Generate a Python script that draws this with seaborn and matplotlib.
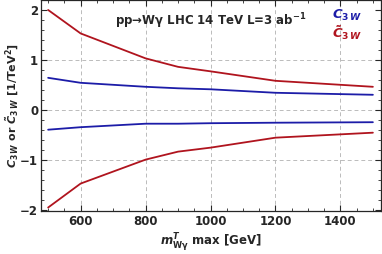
import numpy as np
import pandas as pd
import matplotlib.pyplot as plt
import seaborn as sns
from matplotlib.ticker import MultipleLocator

# Data gelezen uit de figuur
mass_max = [500, 600, 800, 900, 1000, 1200, 1500]
c3w_upper = [0.64, 0.54, 0.46, 0.43, 0.41, 0.34, 0.30]
c3w_lower = [-0.40, -0.35, -0.28, -0.28, -0.27, -0.26, -0.25]
c3w_tilde_upper = [2.00, 1.53, 1.03, 0.86, 0.77, 0.58, 0.46]
c3w_tilde_lower = [-1.96, -1.48, -1.00, -0.84, -0.76, -0.56, -0.46]

blue = "#1c1ca8"
red = "#b0141e"

sns.set_style("ticks")
plt.rcParams["font.family"] = ["DejaVu Sans"]
plt.rcParams["font.weight"] = "bold"
plt.rcParams["mathtext.fontset"] = "dejavusans"

fig = plt.figure(figsize=(3.82, 2.54), dpi=100)
ax = fig.add_axes([41 / 382, 43 / 254, 340 / 382, 211 / 254])

df = pd.DataFrame({"m": mass_max, "cu": c3w_upper, "cl": c3w_lower,
                   "tu": c3w_tilde_upper, "tl": c3w_tilde_lower})
for col, color in [("tu", red), ("tl", red), ("cu", blue), ("cl", blue)]:
    sns.lineplot(data=df, x="m", y=col, color=color, lw=1.3, ax=ax)

ax.set_xlim(478, 1525)
ax.set_ylim(-2.03, 2.2)
ax.set_xticks([600, 800, 1000, 1200, 1400])
ax.set_yticks([-2, -1, 0, 1, 2])
ax.xaxis.set_minor_locator(MultipleLocator(50))
ax.yaxis.set_minor_locator(MultipleLocator(0.2))
ax.tick_params(which="both", direction="in", top=True, right=True, labelsize=8.5)
ax.tick_params(which="major", length=4, width=0.8, pad=3)
ax.tick_params(axis="y", which="major", pad=2)
ax.tick_params(which="minor", length=2, width=0.6)
for lab in ax.get_xticklabels() + ax.get_yticklabels():
    lab.set_fontweight("bold")

for v in [600, 800, 1000, 1200, 1400]:
    ax.axvline(v, color="#bbbbbb", ls=(0, (4, 3)), lw=0.7, zorder=0)
for v in [-1, 0, 1]:
    ax.axhline(v, color="#bbbbbb", ls=(0, (4, 3)), lw=0.7, zorder=0)

ax.set_xlabel(r"$\mathbf{\mathit{m}^{\mathit{T}}_{W\gamma}}$ max [GeV]", fontsize=8.5,
              fontweight="bold", labelpad=2)
ax.set_ylabel(r"$\mathbf{\mathit{C}_{3\,\mathit{W}}}$ or $\mathbf{\tilde{\mathit{C}}_{3\,\mathit{W}}}$ [1/TeV$^\mathbf{2}$]",
              fontsize=8, fontweight="bold")
ax.yaxis.set_label_coords(-0.062, 0.5)

ax.text(0.5, 0.9, r"pp→W$\mathbf{\gamma}$ LHC 14 TeV L=3 ab$^{\mathbf{-1}}$",
        transform=ax.transAxes, fontsize=8.5, fontweight="bold", ha="center", va="center")
ax.text(0.945, 0.925, r"$\mathbf{\mathit{C}_{3\,\mathit{W}}}$", color=blue,
        transform=ax.transAxes, fontsize=9.5, ha="right", va="center")
ax.text(0.945, 0.845, r"$\mathbf{\tilde{\mathit{C}}_{3\,\mathit{W}}}$", color=red,
        transform=ax.transAxes, fontsize=9.5, ha="right", va="center")

for s in ax.spines.values():
    s.set_linewidth(0.9)

fig.savefig("out.png", dpi=100)
